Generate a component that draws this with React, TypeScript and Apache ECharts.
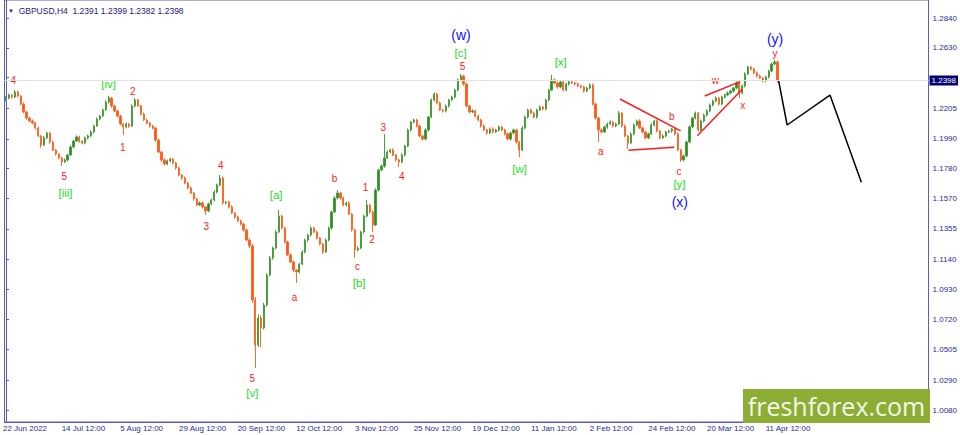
import React, { useEffect, useRef } from "react";
import * as echarts from "echarts";

// ---------- data ----------
const xTickLabels = [
  "22 Jun 2022", "14 Jul 12:00", "5 Aug 12:00", "29 Aug 12:00", "20 Sep 12:00",
  "12 Oct 12:00", "3 Nov 12:00", "25 Nov 12:00", "19 Dec 12:00", "11 Jan 12:00",
  "2 Feb 12:00", "24 Feb 12:00", "20 Mar 12:00", "11 Apr 12:00",
];
const yTickValues = [
  1.008, 1.029, 1.0505, 1.072, 1.093, 1.114, 1.1355, 1.157, 1.178, 1.199,
  1.2205, 1.242, 1.263, 1.284,
];
const yLabelValues = [
  1.008, 1.029, 1.0505, 1.072, 1.093, 1.114, 1.1355, 1.157, 1.178, 1.199,
  1.2205, 1.263, 1.284,
];
const firstOpen = 1.2263;
const closes = [
  1.2277, 1.2298, 1.2284, 1.2319, 1.2291, 1.2235, 1.2179, 1.2136, 1.2115, 1.2101,
  1.2066, 1.2010, 1.1946, 1.1996, 1.2031, 1.1967, 1.1911, 1.1883, 1.1855, 1.1827,
  1.1841, 1.1876, 1.1932, 1.1974, 1.2003, 1.1974, 1.1960, 1.1996, 1.2010, 1.2038,
  1.2080, 1.2129, 1.2150, 1.2193, 1.2249, 1.2277, 1.2221, 1.2186, 1.2150, 1.2094,
  1.2073, 1.2094, 1.2080, 1.2221, 1.2263, 1.2221, 1.2164, 1.2122, 1.2101, 1.2080,
  1.2066, 1.1981, 1.1897, 1.1841, 1.1812, 1.1834, 1.1848, 1.1820, 1.1784, 1.1735,
  1.1714, 1.1679, 1.1643, 1.1608, 1.1566, 1.1524, 1.1538, 1.1510, 1.1482, 1.1531,
  1.1559, 1.1615, 1.1665, 1.1714, 1.1538, 1.1545, 1.1510, 1.1468, 1.1439, 1.1411,
  1.1390, 1.1348, 1.1277, 1.1235, 1.0855, 1.0538, 1.0728, 1.0658, 1.0820, 1.1031,
  1.1151, 1.1221, 1.1334, 1.1446, 1.1362, 1.1263, 1.1172, 1.1123, 1.1066, 1.1052,
  1.1108, 1.1193, 1.1277, 1.1313, 1.1362, 1.1334, 1.1292, 1.1249, 1.1193, 1.1277,
  1.1362, 1.1475, 1.1573, 1.1608, 1.1573, 1.1524, 1.1538, 1.1460, 1.1348, 1.1207,
  1.1221, 1.1334, 1.1446, 1.1524, 1.1475, 1.1383, 1.1629, 1.1770, 1.1798, 1.1855,
  1.1897, 1.1911, 1.1876, 1.1841, 1.1827, 1.1876, 1.1939, 1.2052, 1.2108, 1.2122,
  1.2080, 1.2010, 1.1988, 1.2052, 1.2143, 1.2263, 1.2305, 1.2242, 1.2193, 1.2186,
  1.2221, 1.2263, 1.2284, 1.2333, 1.2404, 1.2432, 1.2376, 1.2221, 1.2179, 1.2186,
  1.2150, 1.2122, 1.2080, 1.2052, 1.2031, 1.2059, 1.2038, 1.2052, 1.2073, 1.2052,
  1.2024, 1.1988, 1.2031, 1.2052, 1.1967, 1.1911, 1.2066, 1.2143, 1.2193, 1.2171,
  1.2143, 1.2193, 1.2214, 1.2200, 1.2263, 1.2333, 1.2404, 1.2383, 1.2355, 1.2390,
  1.2333, 1.2376, 1.2390, 1.2383, 1.2376, 1.2362, 1.2355, 1.2326, 1.2347, 1.2369,
  1.2235, 1.2136, 1.2052, 1.2038, 1.2073, 1.2094, 1.2108, 1.2080, 1.2094, 1.2171,
  1.2080, 1.2010, 1.1960, 1.2024, 1.2087, 1.2115, 1.2066, 1.2038, 1.1996, 1.2024,
  1.2087, 1.2115, 1.2045, 1.1996, 1.2010, 1.2038, 1.2045, 1.2059, 1.2024, 1.1911,
  1.1841, 1.1869, 1.1967, 1.2073, 1.2136, 1.2171, 1.2052, 1.2115, 1.2157, 1.2186,
  1.2228, 1.2256, 1.2277, 1.2235, 1.2284, 1.2298, 1.2312, 1.2326, 1.2347, 1.2383,
  1.2312, 1.2362, 1.2446, 1.2495, 1.2481, 1.2453, 1.2432, 1.2418, 1.2397, 1.2425,
  1.2467, 1.2516, 1.2531, 1.2398,
];
// wick lengths above / below the body, in pips
const wickUp = [
  12, 10, 8, 15, 9, 6, 10, 7, 9, 11,
  8, 10, 6, 14, 9, 7, 10, 8, 6, 9,
  10, 7, 12, 9, 11, 8, 6, 10, 9, 12,
  9, 11, 8, 10, 12, 15, 8, 10, 7, 9,
  8, 10, 7, 12, 14, 9, 8, 11, 10, 7,
  9, 7, 10, 8, 12, 10, 9, 7, 8, 10,
  8, 10, 9, 12, 7, 10, 11, 9, 8, 10,
  10, 12, 9, 21, 10, 8, 9, 11, 7, 10,
  9, 8, 10, 12, 15, 20, 25, 18, 14, 12,
  14, 10, 12, 42, 9, 8, 10, 11, 9, 7,
  9, 12, 10, 8, 11, 9, 10, 7, 9, 12,
  10, 9, 12, 21, 8, 10, 9, 11, 8, 10,
  12, 9, 10, 35, 8, 10, 12, 9, 10, 168,
  10, 9, 11, 8, 10, 12, 9, 10, 8, 11,
  9, 10, 8, 12, 9, 10, 11, 8, 10, 9,
  10, 8, 9, 11, 10, 14, 9, 10, 8, 12,
  8, 10, 9, 11, 8, 10, 12, 9, 10, 8,
  9, 11, 8, 10, 9, 8, 12, 10, 9, 11,
  10, 9, 11, 8, 10, 9, 35, 10, 8, 9,
  8, 10, 9, 11, 8, 10, 9, 8, 10, 12,
  10, 9, 8, 11, 10, 9, 12, 8, 10, 14,
  9, 10, 8, 11, 10, 9, 12, 10, 8, 9,
  12, 9, 10, 8, 11, 9, 10, 8, 9, 10,
  8, 9, 10, 12, 9, 11, 8, 10, 9, 11,
  10, 9, 11, 8, 10, 9, 12, 10, 8, 11,
  9, 10, 12, 10, 8, 9, 11, 10, 8, 9,
  9, 11, 14, 10,
];
const wickDown = [
  8, 10, 12, 7, 10, 9, 8, 12, 6, 10,
  10, 8, 20, 7, 9, 12, 8, 10, 9, 28,
  8, 10, 7, 9, 6, 12, 10, 8, 11, 7,
  10, 6, 9, 8, 7, 10, 12, 8, 10, 9,
  56, 9, 12, 8, 10, 7, 10, 8, 9, 12,
  10, 12, 8, 14, 10, 8, 9, 11, 10, 8,
  12, 9, 10, 8, 11, 9, 7, 10, 28, 9,
  8, 10, 9, 10, 12, 9, 10, 8, 11, 9,
  10, 12, 9, 14, 20, 162, 15, 134, 10, 12,
  10, 12, 9, 8, 11, 10, 9, 8, 14, 77,
  10, 8, 9, 12, 10, 8, 11, 9, 14, 8,
  9, 11, 8, 10, 12, 9, 10, 8, 11, 56,
  10, 8, 11, 9, 12, 49, 9, 10, 8, 12,
  8, 10, 9, 12, 35, 9, 10, 8, 11, 9,
  10, 8, 12, 9, 11, 8, 10, 9, 8, 12,
  9, 11, 8, 10, 9, 8, 12, 10, 9, 8,
  10, 9, 11, 8, 12, 9, 10, 8, 11, 9,
  10, 8, 12, 9, 10, 49, 8, 9, 10, 8,
  9, 10, 8, 11, 9, 10, 8, 9, 12, 10,
  10, 9, 12, 8, 10, 9, 11, 10, 8, 9,
  9, 11, 84, 10, 8, 12, 9, 10, 9, 8,
  10, 9, 42, 8, 10, 9, 8, 11, 10, 9,
  8, 10, 9, 11, 8, 10, 9, 12, 10, 9,
  14, 10, 9, 8, 10, 9, 12, 8, 10, 9,
  9, 10, 8, 11, 9, 10, 8, 9, 11, 8,
  35, 9, 10, 8, 11, 9, 10, 8, 9, 10,
  10, 8, 9, 12,
];
const currentPrice = 1.2398;
const headerText = "GBPUSD,H4  1.2391 1.2399 1.2382 1.2398";

// wave labels: [bar position, price, text]
const redLabels: [number, number, string][] = [
  [2.5, 1.2399, "4"], [19.9, 1.1723, "5"], [39.8, 1.1932, "1"], [43.2, 1.2321, "2"],
  [68.3, 1.1371, "3"], [73.2, 1.1805, "4"], [84.0, 1.0301, "5"], [98.4, 1.0871, "a"],
  [112.0, 1.1707, "b"], [119.8, 1.1089, "c"], [122.6, 1.1647, "1"], [124.8, 1.1282, "2"],
  [128.6, 1.2068, "3"], [134.9, 1.1723, "4"], [155.6, 1.2502, "5"], [202.8, 1.1899, "a"],
  [227.0, 1.2150, "b"], [229.4, 1.1758, "c"], [241.8, 1.2399, "w"], [251.2, 1.2221, "x"],
  [262.2, 1.2587, "y"],
];
const greenLabels: [number, number, string][] = [
  [20.3, 1.1608, "[iii]"], [35.0, 1.2376, "[iv]"], [84.0, 1.0202, "[v]"],
  [92.1, 1.1594, "[a]"], [120.4, 1.0973, "[b]"], [155.0, 1.2596, "[c]"],
  [175.1, 1.1777, "[w]"], [189.1, 1.2528, "[x]"], [229.6, 1.1670, "[y]"],
];
const blueLabels: [number, number, string][] = [
  [155.1, 1.2721, "(w)"], [229.7, 1.1547, "(x)"], [262.2, 1.2692, "(y)"],
];
// red pattern lines (triangle and wedge)
const redSegments: [number, number][][] = [
  [[209.3, 1.2270], [230.0, 1.2045]],
  [[212.2, 1.1909], [227.8, 1.1930]],
  [[238.2, 1.2291], [250.3, 1.2392]],
  [[235.7, 1.2012], [251.0, 1.2338]],
];
// black forecast path
const projection: [number, number][] = [
  [263.4, 1.2397], [266.3, 1.2087], [280.9, 1.2298], [291.6, 1.1684],
];

const N_SLOTS = 315;
const Y_MIN = 0.9996;
const Y_MAX = 1.2967;

const FONT = "'Liberation Sans', Arial, sans-serif";
const AXIS_BLUE = "#5a5ab8";
const TEXT_BLUE = "#2b2b9a";

export default function App() {
  const ref = useRef<HTMLDivElement>(null);
  useEffect(() => {
    document.body.style.margin = "0";
    if (!ref.current) return;
    const chart = echarts.init(ref.current, undefined, { renderer: "svg" });

    const categories = Array.from({ length: N_SLOTS }, (_, i) =>
      i % 20 === 0 && xTickLabels[i / 20] ? xTickLabels[i / 20] : ""
    );
    const candles = closes.map((c, i) => {
      const o = i === 0 ? firstOpen : closes[i - 1];
      const hi = Math.max(o, c) + wickUp[i] / 10000;
      const lo = Math.min(o, c) - wickDown[i] / 10000;
      return [o, c, lo, hi];
    });

    const labelSeries = (items: [number, number, string][], color: string, size: number) => ({
      type: "scatter",
      xAxisIndex: 1,
      yAxisIndex: 0,
      symbol: "circle",
      symbolSize: 1,
      silent: true,
      z: 5,
      data: items.map(([x, y, t]) => ({ value: [x, y], name: t })),
      itemStyle: { color: "rgba(0,0,0,0)" },
      label: {
        show: true,
        position: "inside",
        formatter: (p: any) => p.name,
        color,
        opacity: 1,
        textBorderWidth: 0,
        textBorderColor: "transparent",
        textShadowBlur: 0,
        fontSize: size,
        fontFamily: FONT,
        align: "center",
        verticalAlign: "middle",
      },
      labelLayout: { hideOverlap: false },
    });

    chart.setOption({
      animation: false,
      backgroundColor: "#ffffff",
      title: {
        text: "{t|▼}  " + headerText,
        left: 3,
        top: 1,
        textStyle: {
          fontSize: 8.5,
          fontWeight: "normal",
          color: "#1a1a80",
          fontFamily: FONT,
          rich: { t: { fontSize: 6, color: "#1a1a80" } },
        },
      },
      grid: {
        left: 2,
        right: 29.5,
        top: 0,
        bottom: 13,
        show: true,
        borderColor: AXIS_BLUE,
        borderWidth: 1,
      },
      xAxis: [
        {
          type: "category",
          data: categories,
          boundaryGap: true,
          axisLine: { lineStyle: { color: AXIS_BLUE } },
          axisTick: { interval: 19, length: 3, lineStyle: { color: AXIS_BLUE } },
          axisLabel: {
            interval: 19,
            align: "left",
            fontSize: 8,
            color: TEXT_BLUE,
            fontFamily: FONT,
            margin: 2,
            hideOverlap: false,
            padding: [0, 0, 0, -3],
          },
          splitLine: { show: false },
        },
        {
          type: "value",
          min: -0.5,
          max: N_SLOTS - 0.5,
          show: false,
        },
      ],
      yAxis: {
        type: "value",
        position: "right",
        min: Y_MIN,
        max: Y_MAX,
        splitLine: { show: false },
        axisLine: { show: true, lineStyle: { color: AXIS_BLUE } },
        axisTick: { show: true, length: 3, customValues: yTickValues, lineStyle: { color: AXIS_BLUE } },
        axisLabel: {
          customValues: yLabelValues,
          formatter: (v: number) => v.toFixed(4),
          fontSize: 8,
          color: TEXT_BLUE,
          fontFamily: FONT,
          margin: 4,
        },
      },
      series: [
        {
          type: "candlestick",
          xAxisIndex: 0,
          yAxisIndex: 0,
          data: candles,
          barWidth: 1.8,
          itemStyle: {
            color: "#2e8b22",
            color0: "#ff5a14",
            borderColor: "#4a9e3c",
            borderColor0: "#ff6a2a",
            borderWidth: 1,
          },
          markLine: {
            silent: true,
            symbol: ["none", "none"],
            z: 10,
            lineStyle: { color: "#e2e2e2", width: 1, type: "solid" },
            label: {
              show: true,
              position: "end",
              formatter: currentPrice.toFixed(4),
              backgroundColor: "#000070",
              color: "#ffffff",
              fontSize: 8,
              fontFamily: FONT,
              padding: [1, 2, 1, 2],
              distance: 1,
            },
            data: [{ yAxis: currentPrice }],
          },
          z: 2,
        },
        {
          type: "lines",
          coordinateSystem: "cartesian2d",
          xAxisIndex: 1,
          yAxisIndex: 0,
          silent: true,
          z: 4,
          lineStyle: { color: "#ff1a1a", width: 1.5, opacity: 1 },
          data: redSegments.map((s) => ({ coords: s })),
        },
        {
          type: "line",
          xAxisIndex: 1,
          yAxisIndex: 0,
          silent: true,
          symbol: "none",
          z: 4,
          lineStyle: { color: "#000000", width: 1.5 },
          data: projection,
        },
        labelSeries(redLabels, "#ff2020", 10),
        labelSeries(greenLabels, "#22dd22", 11.5),
        labelSeries(blueLabels, "#1010ff", 14),
      ],
      graphic: [
        {
          type: "rect",
          left: 743,
          top: 389,
          shape: { width: 187, height: 34 },
          style: { fill: "#8cae34" },
          z: 100,
        },
        {
          type: "text",
          x: 836.5,
          y: 406,
          style: {
            text: "freshforex.com",
            fill: "#f4f6ea",
            fontSize: 25,
            fontFamily: "'Open Sans', sans-serif",
            align: "center",
            verticalAlign: "middle",
          },
          z: 101,
        },
      ],
    });
    return () => chart.dispose();
  }, []);
  return <div ref={ref} style={{ width: 960, height: 435 }} />;
}
